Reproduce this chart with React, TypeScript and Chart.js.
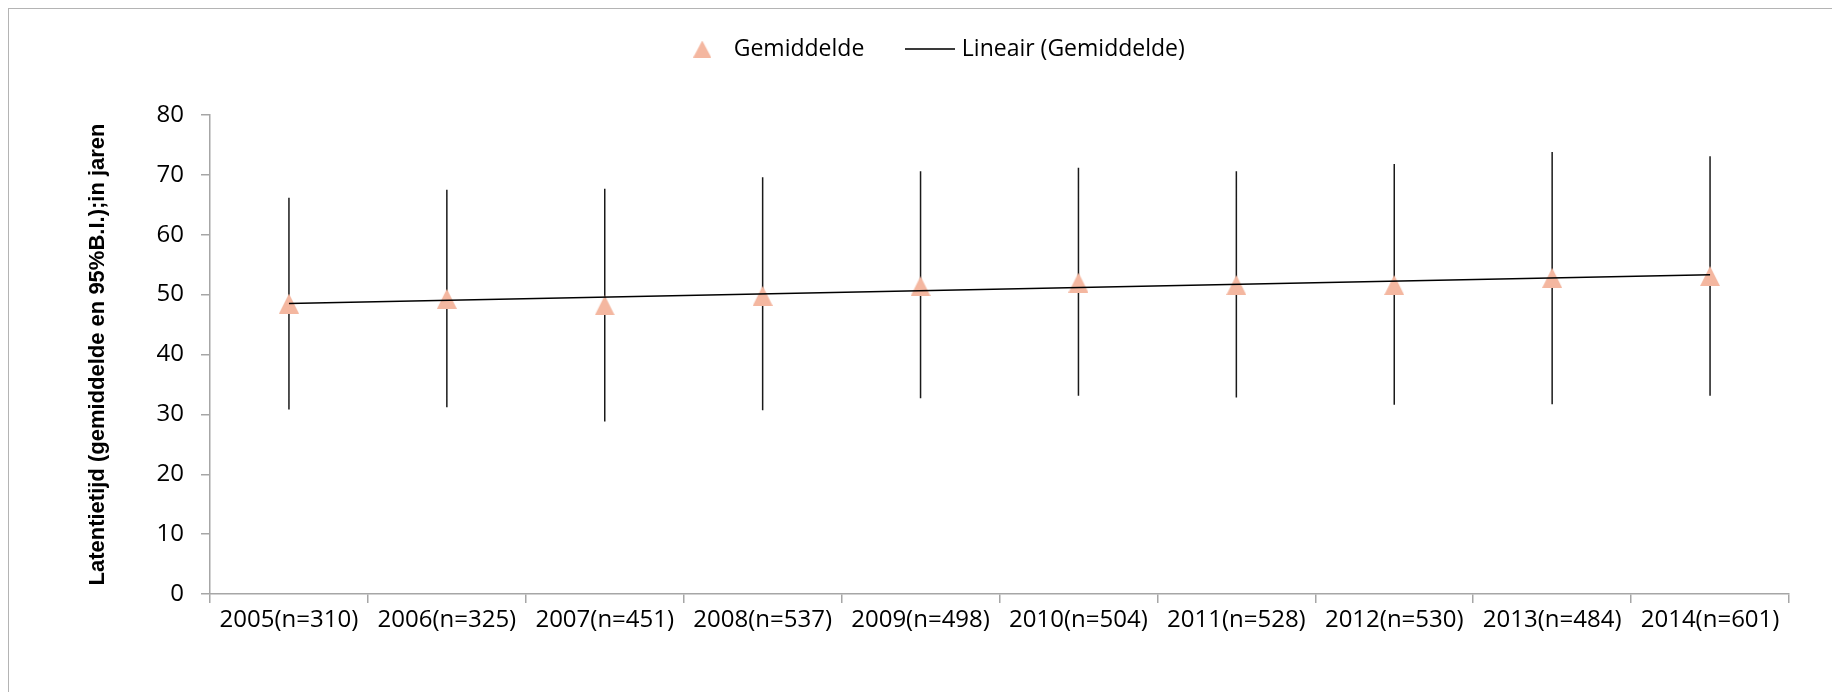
import { useEffect, useRef } from 'react';
import { Chart, registerables } from 'chart.js';

Chart.register(...registerables);

const categories = [
  '2005(n=310)', '2006(n=325)', '2007(n=451)', '2008(n=537)', '2009(n=498)',
  '2010(n=504)', '2011(n=528)', '2012(n=530)', '2013(n=484)', '2014(n=601)',
];
const means = [48.5, 49.3, 48.2, 49.8, 51.4, 52.0, 51.6, 51.6, 52.8, 53.1];
const upper = [66.2, 67.5, 67.7, 69.6, 70.6, 71.2, 70.6, 71.8, 73.8, 73.1];
const lower = [30.8, 31.2, 28.8, 30.7, 32.7, 33.1, 32.8, 31.6, 31.7, 33.1];
const trendEnds = [48.5, 53.3];
const yTicks = [0, 10, 20, 30, 40, 50, 60, 70, 80];
const seriesLabels = ['Gemiddelde', 'Lineair (Gemiddelde)'];
const yTitle = 'Latentietijd (gemiddelde en 95%B.I.);in jaren';

const MARKER = '#F4B7A0';
const AXIS = '#a6a6a6';
const FONT = '"Open Sans", "Noto Sans", sans-serif';

function triangleImage(w: number, h: number) {
  const c = document.createElement('canvas');
  c.width = w;
  c.height = h;
  const g = c.getContext('2d')!;
  g.fillStyle = MARKER;
  g.beginPath();
  g.moveTo(w / 2, 0);
  g.lineTo(w, h);
  g.lineTo(0, h);
  g.closePath();
  g.fill();
  return c;
}

function lineImage(w: number) {
  const c = document.createElement('canvas');
  c.width = w;
  c.height = 2;
  const g = c.getContext('2d')!;
  g.fillStyle = '#3a3a3a';
  g.fillRect(0, 0, w, 2);
  return c;
}

const errorBars = {
  id: 'errorBars',
  beforeDatasetsDraw(chart: any) {
    const { ctx, scales } = chart;
    const x = scales.x;
    const y = scales.y;
    ctx.save();
    ctx.strokeStyle = '#1a1a1a';
    ctx.lineWidth = 1.5;
    ctx.beginPath();
    categories.forEach((_, i) => {
      const px = x.getPixelForValue(i);
      ctx.moveTo(px, y.getPixelForValue(upper[i]));
      ctx.lineTo(px, y.getPixelForValue(lower[i]));
    });
    ctx.stroke();
    ctx.restore();
  },
};

const legendPlacement = {
  id: 'legendPlacement',
  beforeInit(chart: any) {
    const lg = chart.legend;
    if (!lg) return;
    const orig = lg.fit;
    lg.fit = function () {
      orig.call(lg);
      lg.height += 27;
    };
  },
  afterLayout(chart: any) {
    const lg = chart.legend;
    if (!lg) return;
    lg.left += 34.5;
    lg.right += 34.5;
    lg.top -= 17.5;
    lg.bottom -= 17.5;
  },
};

export default function App() {
  const ref = useRef<HTMLCanvasElement>(null);

  useEffect(() => {
    const tri = triangleImage(20, 20);
    const triLegend = triangleImage(18, 17);
    const lineLegend = lineImage(50);

    const trendData = categories.map((_, i) =>
      i === 0 ? trendEnds[0] : i === categories.length - 1 ? trendEnds[1] : null
    );

    const chart = new Chart(ref.current!, {
      type: 'line',
      data: {
        labels: categories,
        datasets: [
          {
            label: seriesLabels[0],
            data: means,
            showLine: false,
            pointStyle: tri as any,
            pointRadius: 10,
            backgroundColor: MARKER,
            borderColor: MARKER,
            pointBorderWidth: 0,
            order: 1,
          },
          {
            label: seriesLabels[1],
            data: trendData,
            spanGaps: true,
            borderColor: '#000',
            backgroundColor: '#000',
            borderWidth: 1.5,
            pointRadius: 0,
            pointStyle: 'line',
            order: 0,
          },
        ],
      },
      options: {
        responsive: false,
        animation: false,
        layout: { padding: { top: 0, left: 0, right: 43, bottom: 56 } },
        plugins: {
          legend: {
            position: 'top',
            labels: {
              usePointStyle: true,
              pointStyleWidth: 40,
              boxHeight: 12,
              padding: 46,
              color: '#000',
              font: { family: FONT, size: 23 },
              sort: (a: any, b: any) => a.datasetIndex - b.datasetIndex,
              generateLabels: (c: any) =>
                (Chart.defaults.plugins.legend.labels.generateLabels as any)(c).map((item: any) =>
                  item.datasetIndex === 0
                    ? { ...item, pointStyle: triLegend, lineWidth: 0 }
                    : { ...item, pointStyle: lineLegend, lineWidth: 0 }
                ),
            },
          },
          tooltip: { enabled: false },
        },
        scales: {
          x: {
            offset: true,
            grid: { offset: true, drawOnChartArea: false, tickLength: 9, color: AXIS, lineWidth: 1.5 },
            border: { color: AXIS, width: 1.5 },
            ticks: { padding: 3, color: '#000', font: { family: FONT, size: 24 }, maxRotation: 0, autoSkip: false },
            afterFit: (s: any) => { s.height = 42; },
          },
          y: {
            min: yTicks[0],
            max: yTicks[yTicks.length - 1],
            afterBuildTicks: (s: any) => { s.ticks = yTicks.map((v) => ({ value: v })); },
            grid: { drawOnChartArea: false, tickLength: 9, color: AXIS, lineWidth: 1.5 },
            border: { color: AXIS, width: 1.5 },
            ticks: { padding: 17, color: '#000', font: { family: FONT, size: 24 } },
            title: {
              display: true,
              text: yTitle,
              color: '#000',
              font: { family: '"Liberation Sans", Arial, sans-serif', size: 22, weight: 'bold' },
              padding: { top: 75.8, bottom: 0 },
            },
            afterFit: (s: any) => { s.width = 201; },
          },
        },
      } as any,
      plugins: [errorBars, legendPlacement],
    });
    return () => chart.destroy();
  }, []);

  return (
    <div
      style={{
        width: 1824,
        height: 684,
        boxSizing: 'border-box',
        borderLeft: '1px solid #b4b4b4',
        borderTop: '1px solid #b4b4b4',
      }}
    >
      <canvas ref={ref} width={1823} height={683} style={{ display: 'block' }} />
    </div>
  );
}
